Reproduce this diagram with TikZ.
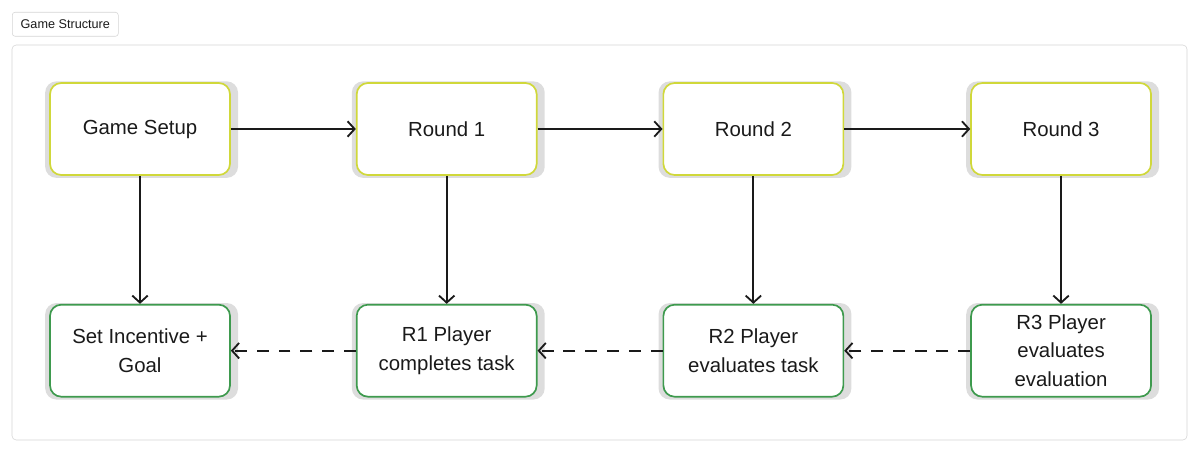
\documentclass[tikz,border=0pt]{standalone}
\usepackage{fontspec}
\setmainfont{Liberation Sans}
\usetikzlibrary{positioning, arrows.meta, backgrounds}
\definecolor{frame}{HTML}{D4D4D4}
\definecolor{setup}{HTML}{D0D83A}
\definecolor{result}{HTML}{3E9A4E}
\definecolor{shadowgray}{HTML}{DDDDDD}
\definecolor{ink}{HTML}{1A1A1A}

\begin{document}
\begin{tikzpicture}[font=\fontsize{14.5}{20}\selectfont, text=ink,
  box/.style={draw, line width=1.2pt, rounded corners=8pt, fill=white,
    minimum width=4.5cm, minimum height=2.3cm, align=center},
  roundbox/.style={box, draw=setup},
  outcome/.style={box, draw=result},
  flow/.style={draw=ink, line width=1.3pt, -{Straight Barb[length=5pt, width=11pt]}},
  back/.style={flow, dash pattern=on 8.5pt off 7pt}]
  \useasboundingbox (0,0) rectangle (30,-11.35);

  % header tab and panel
  \node[draw=frame, rounded corners=2pt, font=\fontsize{9}{11}\selectfont,
    minimum width=2.65cm, minimum height=0.6cm, anchor=north west] (title) at (0.3,-0.3) {Game Structure};
  \draw[frame, rounded corners=3pt] (0.3,-1.125) rectangle (29.675,-11.0);

  % rounds
  \node[roundbox] (setup) at (3.5,-3.225) {Game Setup};
  \node[roundbox, right=3.125cm of setup] (r1) {Round 1};
  \node[roundbox, right=3.125cm of r1] (r2) {Round 2};
  \node[roundbox, right=3.15cm of r2] (r3) {Round 3};

  % what happens in each round
  \node[outcome, below=3.2cm of setup] (goal) {Set Incentive +\\Goal};
  \node[outcome, below=3.2cm of r1] (done1) {R1 Player\\completes task};
  \node[outcome, below=3.2cm of r2] (done2) {R2 Player\\evaluates task};
  \node[outcome, below=3.2cm of r3] (done3) {R3 Player\\evaluates\\evaluation};

  \begin{scope}[on background layer]
    \foreach \n in {setup, r1, r2, r3, goal, done1, done2, done3}
      \fill[shadowgray, rounded corners=8pt] ([shift={(-0.1,0.02)}]\n.north west) rectangle ([shift={(0.18,-0.05)}]\n.south east);
  \end{scope}

  \foreach \a/\b in {setup/r1, r1/r2, r2/r3, setup/goal, r1/done1, r2/done2, r3/done3}
    \draw[flow] (\a) -- (\b);
  \foreach \a/\b in {done3/done2, done2/done1, done1/goal}
    \draw[back] (\a) -- (\b);
\end{tikzpicture}
\end{document}
